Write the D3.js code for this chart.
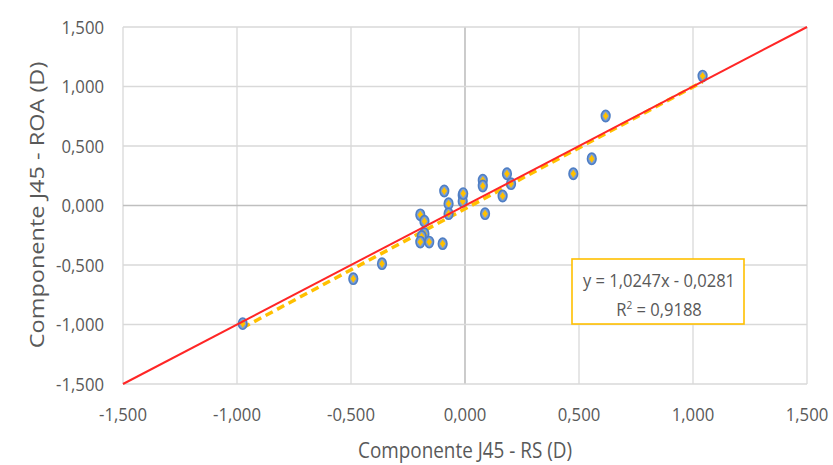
<!DOCTYPE html>
<html>
<head>
<meta charset="utf-8">
<script src="https://cdn.jsdelivr.net/npm/d3@7"></script>
<style>
  body { margin: 0; background: #fff; }
  text { font-family: "Open Sans", sans-serif; fill: #595959; }
</style>
</head>
<body>
<div id="chart"></div>
<script>
// measured points: Componente J45 - RS (x) vs Componente J45 - ROA (y)
const xValues = [-0.975, -0.490, -0.364, -0.196, -0.178, -0.178, -0.190, -0.196, -0.157, -0.098,
                 -0.091, -0.072, -0.072, -0.010, -0.010, -0.008, 0.078, 0.078, 0.088, 0.165,
                 0.184, 0.202, 0.475, 0.556, 0.617, 1.042]
const yValues = [-0.993, -0.615, -0.489, -0.078, -0.132, -0.237, -0.260, -0.307, -0.307, -0.321,
                 0.122, 0.015, -0.069, 0.086, 0.035, 0.100, 0.212, 0.164, -0.069, 0.080,
                 0.267, 0.183, 0.267, 0.393, 0.752, 1.088]
const ticks = [-1.5, -1.0, -0.5, 0, 0.5, 1.0, 1.5]
const slope = 1.0247
const intercept = -0.0281
const r2 = "0,9188"

const width = 833, height = 465
const margin = {top: 27, right: 26, bottom: 81, left: 123}

const svg = d3.select("#chart").append("svg")
    .attr("width", width)
    .attr("height", height)

const x = d3.scaleLinear().domain([-1.5, 1.5]).range([margin.left, width - margin.right])
const y = d3.scaleLinear().domain([-1.5, 1.5]).range([height - margin.bottom, margin.top])

const fmt = v => d3.format(".3f")(v).replace("−", "-").replace(".", ",")

// text the picture squeezes sideways (narrow, tall glyphs)
const label = (sel, tx, ty, sx, sy, size, anchor, rot = 0) => sel
    .attr("transform", `translate(${tx},${ty}) rotate(${rot}) scale(${sx},${sy})`)
    .attr("text-anchor", anchor)
    .style("font-size", size + "px")

// gridlines
svg.append("g").selectAll("line").data(ticks).join("line")
    .attr("x1", d => x(d)).attr("x2", d => x(d))
    .attr("y1", y(1.5)).attr("y2", y(-1.5))
    .attr("stroke", d => d === 0 ? "#bfbfbf" : "#d9d9d9")
    .attr("stroke-width", d => d === 0 ? 1.6 : 1.3)
svg.append("g").selectAll("line").data(ticks).join("line")
    .attr("y1", d => y(d)).attr("y2", d => y(d))
    .attr("x1", x(-1.5)).attr("x2", x(1.5))
    .attr("stroke", d => d === 0 ? "#bfbfbf" : "#d9d9d9")
    .attr("stroke-width", d => d === 0 ? 1.6 : 1.3)

// tick labels
svg.append("g").selectAll("text").data(ticks).join("text")
    .each(function(d) { label(d3.select(this), margin.left - 19, y(d) + 6.5, 0.88, 1, 19, "end") })
    .text(fmt)
svg.append("g").selectAll("text").data(ticks).join("text")
    .each(function(d) { label(d3.select(this), x(d), 421, 0.88, 1, 19, "middle") })
    .text(fmt)

// axis titles
label(svg.append("text"), x(0), 458, 0.9, 1, 21, "middle")
    .text("Componente J45 - RS (D)")
label(svg.append("text"), 44, 205, 1.12, 0.92, 21, "middle", -90)
    .text("Componente J45 - ROA (D)")

// linear trend line (dashed)
const xmin = d3.min(xValues), xmax = d3.max(xValues)
svg.append("line")
    .attr("x1", x(xmin)).attr("y1", y(slope * xmin + intercept))
    .attr("x2", x(xmax)).attr("y2", y(slope * xmax + intercept))
    .attr("stroke", "#ffc000")
    .attr("stroke-width", 3.5)
    .attr("stroke-dasharray", "8,5")

// markers
const pts = svg.append("g").selectAll("g").data(d3.range(xValues.length)).join("g")
    .attr("transform", i => `translate(${x(xValues[i])},${y(yValues[i])})`)
pts.append("ellipse")
    .attr("rx", 4.3).attr("ry", 5.6)
    .attr("fill", "#7a9fd6")
    .attr("stroke", "#4f7ec4")
    .attr("stroke-width", 1.6)
pts.append("path")
    .attr("d", "M0,-4L2.8,0L0,4L-2.8,0Z")
    .attr("fill", "#ffc000")

// identity line y = x
svg.append("line")
    .attr("x1", x(-1.5)).attr("y1", y(-1.5))
    .attr("x2", x(1.5)).attr("y2", y(1.5))
    .attr("stroke", "#ff2626")
    .attr("stroke-width", 2)

// equation box
const bx = 572, by = 259, bw = 172, bh = 65
svg.append("rect")
    .attr("x", bx).attr("y", by).attr("width", bw).attr("height", bh)
    .attr("fill", "#fff")
    .attr("stroke", "#ffc000")
    .attr("stroke-width", 1.6)
label(svg.append("text"), bx + bw / 2 + 1, by + 28, 0.92, 1, 18, "middle")
    .text(`y = ${String(slope).replace(".", ",")}x - ${String(-intercept).replace(".", ",")}`)
const r2Text = label(svg.append("text"), bx + bw / 2 + 1, by + 57, 0.92, 1, 18, "middle")
r2Text.append("tspan").text("R")
r2Text.append("tspan").attr("dy", -7).style("font-size", "11px").text("2")
r2Text.append("tspan").attr("dy", 7).text(` = ${r2}`)
</script>
</body>
</html>
